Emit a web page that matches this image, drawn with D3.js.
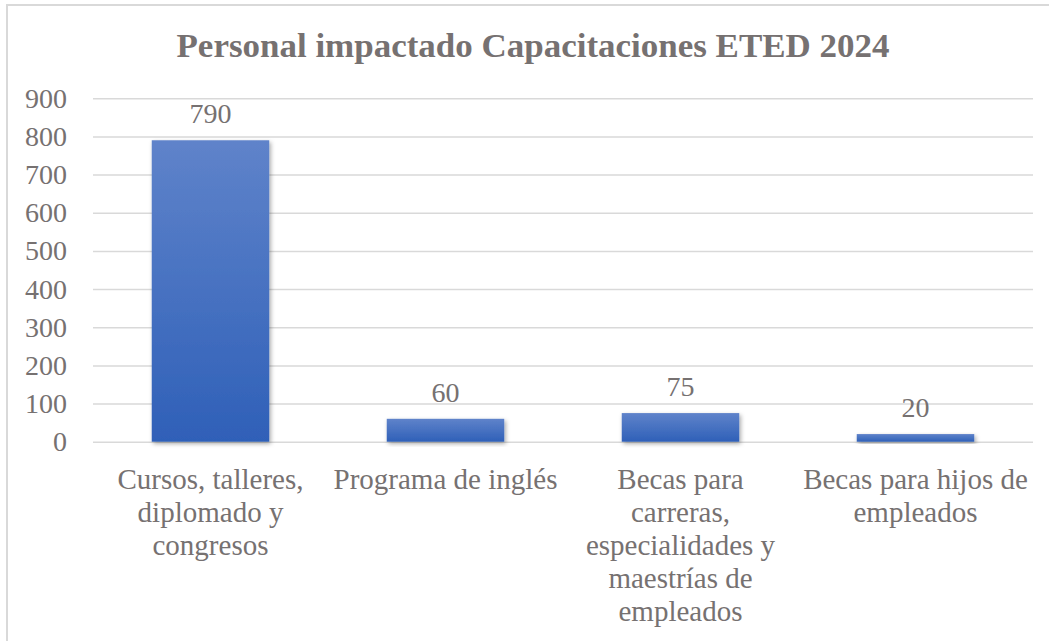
<!DOCTYPE html>
<html>
<head>
<meta charset="utf-8">
<script src="https://cdn.jsdelivr.net/npm/d3@7"></script>
<style>
  body { margin: 0; background: #fff; }
  svg text { font-family: "Liberation Serif", "Times New Roman", serif; fill: #767171; }
</style>
</head>
<body>
<div id="chart"></div>
<script>
var title = "Personal impactado Capacitaciones ETED 2024";
var categories = [
    "Cursos, talleres,\ndiplomado y\ncongresos",
    "Programa de inglés",
    "Becas para\ncarreras,\nespecialidades y\nmaestrías de\nempleados",
    "Becas para hijos de\nempleados"
];
var values = [790, 60, 75, 20];
var yTicks = [0, 100, 200, 300, 400, 500, 600, 700, 800, 900];

var svgWidth = 1049;
var svgHeight = 641;

var margin = { top: 98.3, right: 16, bottom: 199.3, left: 93 };
var width = svgWidth - margin.left - margin.right;
var height = svgHeight - margin.top - margin.bottom;

var svg = d3.select("#chart")
    .append("svg")
    .attr("width", svgWidth)
    .attr("height", svgHeight);

var defs = svg.append("defs");
var grad = defs.append("linearGradient")
    .attr("id", "barGrad")
    .attr("x1", 0).attr("y1", 0).attr("x2", 0).attr("y2", 1);
grad.append("stop").attr("offset", "0%").attr("stop-color", "#5f83ca");
grad.append("stop").attr("offset", "100%").attr("stop-color", "#2f60b8");

var shadow = defs.append("filter")
    .attr("id", "barShadow")
    .attr("x", "-20%").attr("y", "-20%")
    .attr("width", "140%").attr("height", "140%");
shadow.append("feDropShadow")
    .attr("dx", 1.5).attr("dy", 2)
    .attr("stdDeviation", 2)
    .attr("flood-color", "#000")
    .attr("flood-opacity", 0.35);

// outer chart border
svg.append("rect")
    .attr("x", 7).attr("y", 5)
    .attr("width", svgWidth).attr("height", svgHeight)
    .attr("fill", "none")
    .attr("stroke", "#d9d9d9")
    .attr("stroke-width", 2);

svg.append("text")
    .attr("x", 533)
    .attr("y", 57)
    .attr("text-anchor", "middle")
    .attr("font-size", "34px")
    .attr("font-weight", "bold")
    .attr("textLength", 713)
    .attr("lengthAdjust", "spacingAndGlyphs")
    .text(title);

var chartGroup = svg.append("g")
    .attr("transform", `translate(${margin.left}, ${margin.top})`);

var xscale = d3.scaleBand().domain(categories).range([0, width]).paddingInner(0.5).paddingOuter(0.25);
var yscale = d3.scaleLinear().domain([0, 900]).range([height, 0]);

var yAxis = d3.axisLeft(yscale)
    .tickValues(yTicks)
    .tickSize(-width)
    .tickPadding(26)
    .tickFormat(d3.format("d"));

var yg = chartGroup.append("g").call(yAxis);
yg.select(".domain").remove();
yg.selectAll(".tick line").attr("stroke", "#d9d9d9").attr("stroke-width", 1.5);
yg.selectAll(".tick text")
    .attr("font-size", "28px")
    .attr("fill", "#767171")
    .style("font-family", "'Liberation Serif', 'Times New Roman', serif");

chartGroup.selectAll("rect.bar")
    .data(values)
    .enter()
    .append("rect")
    .attr("class", "bar")
    .attr("x", (d, i) => xscale(categories[i]))
    .attr("y", d => yscale(d))
    .attr("width", xscale.bandwidth())
    .attr("height", d => height - yscale(d))
    .attr("fill", "url(#barGrad)")
    .attr("filter", "url(#barShadow)");

chartGroup.selectAll("text.val")
    .data(values)
    .enter()
    .append("text")
    .attr("class", "val")
    .attr("x", (d, i) => xscale(categories[i]) + xscale.bandwidth() / 2)
    .attr("y", d => yscale(d) - 17)
    .attr("text-anchor", "middle")
    .attr("font-size", "28px")
    .text(d => d);

categories.forEach(function(c) {
    var cx = xscale(c) + xscale.bandwidth() / 2;
    var t = chartGroup.append("text")
        .attr("x", cx)
        .attr("y", height + 47)
        .attr("text-anchor", "middle")
        .attr("font-size", "29px");
    c.split("\n").forEach(function(line, j) {
        t.append("tspan")
            .attr("x", cx)
            .attr("dy", j === 0 ? 0 : 33)
            .text(line);
    });
});
</script>
</body>
</html>
